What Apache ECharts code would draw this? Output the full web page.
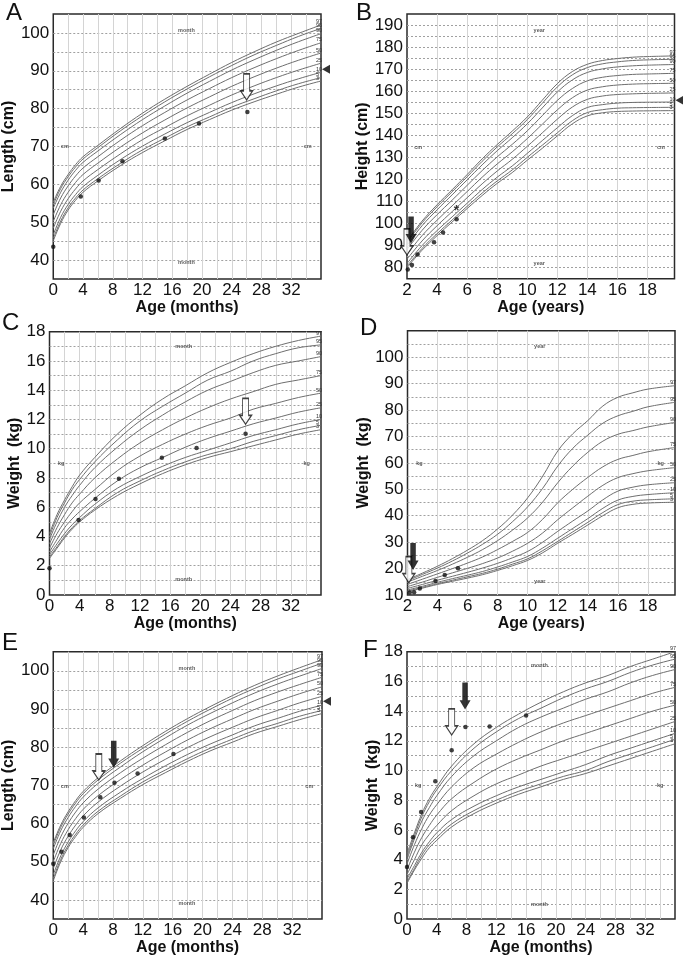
<!DOCTYPE html>
<html><head><meta charset="utf-8">
<script src="https://cdn.jsdelivr.net/npm/echarts@6/dist/echarts.min.js"></script>
<style>html,body{margin:0;padding:0;background:#fff}#c{width:683px;height:958px}</style>
</head><body><div id="c"></div>
<script>
// ---------- DATA ----------
const monthAges = [0,1,2,3,4,6,9,12,15,18,21,24,27,30,33,36];
const yearAges = [2,3,4,5,6,7,8,9,10,11,12,13,14,15,16,17,18,19.8];
const pctLabels = ['3','5','10','25','50','75','90','95','97'];

// Panel A: length (cm) percentiles 3..97 by monthAges
const pctA = [
 [45.1,49.7,53.2,55.8,57.9,60.9,64.9,68.4,71.5,74.5,77.1,79.6,81.8,83.8,85.7,87.3],
 [45.8,50.3,53.8,56.4,58.5,61.5,65.5,69.1,72.2,75.2,77.8,80.4,82.6,84.7,86.6,88.2],
 [46.7,51.3,54.7,57.3,59.4,62.4,66.5,70.1,73.3,76.3,79.0,81.6,83.9,86.0,87.9,89.6],
 [48.4,52.9,56.2,58.8,60.9,63.9,68.0,71.8,75.0,78.1,80.9,83.6,86.0,88.2,90.2,92.0],
 [50.2,54.6,57.9,60.5,62.6,65.6,69.8,73.6,77.0,80.2,83.1,85.9,88.4,90.7,92.8,94.7],
 [52.0,56.4,59.6,62.2,64.3,67.3,71.6,75.5,79.0,82.3,85.3,88.2,90.8,93.2,95.4,97.4],
 [53.7,57.9,61.1,63.7,65.8,68.8,73.1,77.1,80.7,84.1,87.2,90.2,92.9,95.4,97.7,99.8],
 [54.6,58.9,62.0,64.6,66.7,69.7,74.1,78.1,81.8,85.2,88.4,91.4,94.2,96.7,99.1,101.2],
 [55.3,59.5,62.6,65.2,67.3,70.3,74.7,78.8,82.5,85.9,89.1,92.2,95.0,97.6,99.9,102.1]
];
const dotsA = [[0,43.5],[3.7,56.8],[6.1,61.0],[9.3,66.1],[15.0,72.1],[19.6,76.1],[26.1,79.1]];

// Panel B: height (cm) percentiles by yearAges
const pctB = [
 [80.0,87.9,94.5,100.7,106.8,112.7,118.2,123.1,128.7,134.1,139.7,145.2,148.8,150.2,150.8,151.0,151.1,151.2],
 [80.7,88.7,95.4,101.6,107.8,113.8,119.3,124.3,130.0,135.5,141.1,146.6,150.3,151.6,152.3,152.5,152.6,152.7],
 [81.9,90.0,96.8,103.0,109.2,115.4,121.0,126.1,131.8,137.6,143.4,148.9,152.6,153.9,154.6,154.9,155.0,155.1],
 [83.8,92.1,99.0,105.4,111.7,118.0,123.8,129.1,135.0,141.1,147.3,152.8,156.3,157.8,158.5,158.8,159.0,159.2],
 [86.0,94.5,101.5,108.0,114.5,121.0,127.0,132.5,138.5,145.0,151.5,157.0,160.5,162.0,162.8,163.2,163.4,163.6],
 [88.2,96.9,104.0,110.6,117.3,124.0,130.2,135.9,142.0,148.9,155.8,161.2,164.7,166.3,167.1,167.6,167.8,168.1],
 [90.1,99.0,106.2,113.0,119.8,126.6,133.0,138.9,145.2,152.4,159.6,165.1,168.5,170.1,171.0,171.5,171.8,172.1],
 [91.3,100.3,107.6,114.4,121.2,128.2,134.7,140.7,147.1,154.5,161.9,167.4,170.7,172.4,173.3,173.9,174.2,174.5],
 [92.0,101.1,108.5,115.3,122.2,129.3,135.8,141.9,148.3,155.9,163.4,168.9,172.2,173.9,174.8,175.4,175.7,176.0]
];
const dotsB = [[2.05,79.2],[2.33,81.2],[2.7,86.0],[3.8,91.5],[4.4,96.0],[5.3,101.9]];
const starB = [[5.3,106.9]];

// Panel C: weight (kg) percentiles by monthAges
const pctC = [
 [2.5,3.2,3.9,4.5,5.0,5.8,6.8,7.6,8.3,8.9,9.4,9.8,10.2,10.6,11.0,11.3],
 [2.6,3.3,4.0,4.6,5.1,5.9,7.0,7.8,8.5,9.1,9.6,10.0,10.5,10.9,11.3,11.6],
 [2.75,3.5,4.2,4.8,5.3,6.2,7.3,8.1,8.8,9.4,9.9,10.4,10.9,11.3,11.7,12.0],
 [2.95,3.8,4.6,5.2,5.7,6.6,7.8,8.7,9.4,10.1,10.7,11.2,11.7,12.1,12.5,12.8],
 [3.2,4.2,5.0,5.7,6.3,7.2,8.5,9.5,10.3,11.0,11.6,12.1,12.7,13.1,13.5,13.8],
 [3.5,4.6,5.5,6.3,6.9,8.0,9.3,10.4,11.3,12.1,12.8,13.4,13.9,14.4,14.7,15.0],
 [3.8,5.0,6.0,6.8,7.5,8.7,10.1,11.3,12.3,13.2,14.0,14.6,15.2,15.7,16.0,16.3],
 [4.0,5.3,6.3,7.2,7.9,9.1,10.6,11.9,12.9,13.8,14.7,15.3,16.0,16.5,16.9,17.1],
 [4.2,5.5,6.5,7.4,8.2,9.4,11.0,12.3,13.4,14.3,15.2,15.9,16.5,17.0,17.4,17.7]
];
const dotsC = [[0,1.83],[3.85,5.13],[6.1,6.57],[9.2,7.94],[14.9,9.38],[19.5,10.05],[26.0,11.03]];

// Panel D: weight (kg) percentiles by yearAges
const pctD = [
 [11.2,12.6,14.0,15.2,16.4,17.7,19.3,21.1,23.1,26.0,29.6,33.0,36.5,40.0,43.0,44.3,44.8,45.1],
 [11.5,12.9,14.3,15.6,16.9,18.2,19.8,21.7,23.7,26.8,30.3,33.9,37.5,41.2,44.2,45.5,46.0,46.4],
 [11.9,13.3,14.8,16.2,17.5,18.9,20.6,22.5,24.6,27.8,31.5,35.2,38.9,42.8,45.9,47.3,48.0,48.7],
 [12.5,14.0,15.6,17.1,18.6,20.2,22.0,24.1,26.5,30.0,34.1,38.0,41.8,46.0,49.3,50.8,51.7,52.5],
 [13.2,14.9,16.7,18.4,20.1,21.9,24.0,26.6,29.6,33.5,38.5,43.0,47.4,51.5,54.4,55.9,57.0,58.2],
 [14.0,16.0,18.0,20.0,22.1,24.4,27.2,30.3,33.7,38.7,44.9,50.0,54.5,58.5,61.3,62.8,64.2,65.8],
 [14.9,17.1,19.3,21.7,24.3,27.2,30.6,34.6,39.2,45.2,52.5,58.8,64.0,68.2,70.8,72.2,73.6,75.3],
 [15.4,17.8,20.2,22.9,25.9,29.2,33.0,37.8,43.4,50.4,58.8,65.5,70.5,75.0,77.8,79.5,81.2,82.9],
 [15.8,18.3,20.9,23.8,27.0,30.6,35.0,40.3,46.8,55.0,64.5,71.0,76.0,81.5,84.8,86.5,87.9,89.2]
];
const dotsD = [[2.15,10.9],[2.44,11.0],[2.82,12.5],[3.86,15.3],[4.48,17.6],[5.36,20.1]];

// Panel E: length (cm) percentiles by monthAges
const pctE = [
 [45.0,50.0,53.7,56.6,59.0,62.6,66.6,70.2,73.3,76.3,79.0,81.3,83.6,85.4,87.2,88.8],
 [45.6,50.6,54.3,57.2,59.6,63.2,67.2,70.9,74.0,77.0,79.7,82.1,84.4,86.2,88.1,89.6],
 [46.6,51.5,55.2,58.1,60.5,64.1,68.2,71.8,75.1,78.1,80.8,83.2,85.6,87.5,89.4,91.0],
 [48.2,53.1,56.7,59.6,62.0,65.6,69.8,73.5,76.8,79.9,82.7,85.2,87.6,89.6,91.6,93.3],
 [50.0,54.8,58.4,61.3,63.7,67.3,71.5,75.3,78.7,81.9,84.8,87.4,89.9,92.0,94.0,95.8],
 [51.8,56.5,60.1,63.0,65.4,69.0,73.3,77.1,80.6,83.9,86.9,89.6,92.2,94.4,96.4,98.3],
 [53.4,58.1,61.6,64.5,66.9,70.5,74.8,78.8,82.4,85.8,88.8,91.6,94.2,96.5,98.6,100.6],
 [54.4,59.0,62.5,65.4,67.8,71.4,75.8,79.7,83.4,86.8,89.9,92.8,95.4,97.8,99.9,102.0],
 [55.0,59.6,63.1,66.0,68.4,72.0,76.4,80.4,84.1,87.5,90.6,93.5,96.2,98.6,100.8,102.9]
];
const dotsE = [[0,49.5],[1.1,52.6],[2.2,57.0],[4.1,61.6],[6.3,66.9],[8.2,70.65],[11.3,73.1],[16.1,78.2]];

// Panel F: weight (kg) percentiles by monthAges
const pctF = [
 [2.4,3.3,4.1,4.8,5.3,6.2,7.1,7.8,8.4,8.9,9.4,9.8,10.3,10.8,11.3,11.8],
 [2.5,3.4,4.3,5.0,5.5,6.4,7.3,8.0,8.6,9.1,9.6,10.0,10.6,11.1,11.6,12.1],
 [2.7,3.6,4.5,5.2,5.8,6.7,7.6,8.3,8.9,9.4,9.9,10.4,11.0,11.5,12.0,12.5],
 [3.0,4.0,5.0,5.7,6.3,7.3,8.3,9.1,9.7,10.3,10.8,11.3,11.8,12.3,12.8,13.3],
 [3.3,4.5,5.5,6.3,7.0,8.1,9.2,10.1,10.8,11.4,12.0,12.5,13.0,13.5,14.0,14.4],
 [3.7,5.0,6.1,7.0,7.7,8.9,10.2,11.1,11.9,12.6,13.2,13.7,14.2,14.7,15.2,15.6],
 [4.0,5.4,6.6,7.5,8.3,9.6,11.0,12.0,12.9,13.6,14.2,14.8,15.3,15.9,16.4,16.8],
 [4.2,5.6,6.9,7.9,8.7,10.0,11.5,12.6,13.5,14.2,14.9,15.5,16.0,16.6,17.1,17.5],
 [4.4,5.8,7.1,8.1,8.9,10.3,11.8,12.9,13.8,14.6,15.3,15.9,16.4,17.0,17.5,18.0]
];
const dotsF = [[0,3.5],[0.8,5.5],[1.9,7.2],[3.8,9.28],[6.0,11.37],[7.85,12.93],[11.1,12.97],[16.0,13.7]];

// Arrow tips (data coords), hollow and solid, and right-side pointers
const whiteArrows = {A:[[26.0,82.3]], B:[[2.0,85.8]], C:[[26.0,11.67]], D:[[2.09,14.65]], E:[[6.1,71.4]], F:[[6.0,12.4]]};
const blackArrows = {A:[], B:[[2.27,91.0]], C:[], D:[[2.37,19.5]], E:[[8.1,74.6]], F:[[7.8,14.1]]};
const pointers = {A:[[36,90.4]], B:[[19.8,155.9]], C:[], D:[], E:[[36,92.0]], F:[]};

// Small chart annotations [x, y, text]
const notes = {
 A:[[17.9,100.7,'month'],[17.9,39.3,'month'],[1.55,69.9,'cm'],[34.2,69.9,'cm']],
 B:[[10.8,187.7,'year'],[10.8,81.7,'year'],[2.75,134.7,'cm'],[18.9,134.7,'cm']],
 C:[[17.8,17.0,'month'],[17.8,1.03,'month'],[1.55,9.0,'kg'],[34.1,9.0,'kg']],
 D:[[10.8,104.0,'year'],[10.8,15.3,'year'],[2.8,59.8,'kg'],[18.85,59.8,'kg']],
 E:[[17.9,100.6,'month'],[17.9,39.1,'month'],[1.55,69.7,'cm'],[34.3,69.7,'cm']],
 F:[[17.8,17.05,'month'],[17.8,0.95,'month'],[1.5,9.0,'kg'],[34.0,9.0,'kg']]
};

// ---------- LAYOUT ----------
const FONT = "'Liberation Sans', Arial, Helvetica, sans-serif";
const panels = [
 {k:'A', ages:monthAges, pct:pctA, dots:dotsA, grid:{left:49.5,top:14,width:271.5,height:265},
  x:{min:0,max:36,step:2,lab:4,labMax:32}, y:{min:35,max:105,step:5,lab:10,labMax:100},
  xName:'Age (months)', yName:'Length (cm)', yGap:25, letter:[6,1]},
 {k:'B', ages:yearAges, pct:pctB, dots:dotsB, grid:{left:407,top:14,width:267.5,height:264.7},
  x:{min:2,max:19.8,step:2,lab:2,labMax:18}, y:{min:75,max:195,step:5,lab:10,labMax:190},
  xName:'Age (years)', yName:'Height (cm)', yGap:32, letter:[356,1]},
 {k:'C', ages:monthAges, pct:pctC, dots:dotsC, grid:{left:49.5,top:331.7,width:271.5,height:263.3},
  x:{min:0,max:36,step:2,lab:4,labMax:32}, y:{min:0,max:18,step:1,lab:2,labMax:18},
  xName:'Age (months)', yName:'Weight  (kg)', yGap:19, letter:[2,311]},
 {k:'D', ages:yearAges, pct:pctD, dots:dotsD, grid:{left:407.5,top:330.7,width:267.5,height:264.3},
  x:{min:2,max:19.8,step:2,lab:2,labMax:18}, y:{min:10,max:110,step:5,lab:10,labMax:100},
  xName:'Age (years)', yName:'Weight  (kg)', yGap:26, letter:[360,316]},
 {k:'E', ages:monthAges, pct:pctE, dots:dotsE, grid:{left:49.5,top:651.7,width:272.5,height:267.3},
  x:{min:0,max:36,step:2,lab:4,labMax:32}, y:{min:35,max:105,step:5,lab:10,labMax:100},
  xName:'Age (months)', yName:'Length (cm)', yGap:24, letter:[2,631]},
 {k:'F', ages:monthAges, pct:pctF, dots:dotsF, grid:{left:407,top:651.7,width:268,height:267.3},
  x:{min:0,max:36,step:2,lab:4,labMax:32}, y:{min:0,max:18,step:1,lab:2,labMax:18},
  xName:'Age (months)', yName:'Weight  (kg)', yGap:20, letter:[363,638]}
];

const arrowPath = 'path://M3,0 L9,0 L9,17 L12,17 L6,26 L0,17 L3,17 Z';
const isMult = (v, m) => Math.abs(v / m - Math.round(v / m)) < 1e-6;

const grids = [], xAxes = [], yAxes = [], series = [], graphics = [];
panels.forEach((p, i) => {
  grids.push(Object.assign({show:true, borderColor:'#2a2a2a', borderWidth:1.5, backgroundColor:'rgba(0,0,0,0)', containLabel:false}, p.grid));
  xAxes.push({type:'value', gridIndex:i, min:p.x.min, max:p.x.max, interval:p.x.step,
    axisLine:{show:false}, axisTick:{show:false},
    splitLine:{show:true, showMinLine:false, showMaxLine:false, lineStyle:{color:'#d4d4d4', width:1}},
    axisLabel:{showMaxLabel:false, margin:3, fontSize:17, color:'#111', fontFamily:FONT,
      formatter:v => (isMult(v - (p.x.min % p.x.lab), p.x.lab) && v <= p.x.labMax) ? String(v) : ''},
    name:p.xName, nameLocation:'middle', nameGap:21,
    nameTextStyle:{fontSize:16, fontWeight:'bold', color:'#111', fontFamily:FONT}});
  yAxes.push({type:'value', gridIndex:i, min:p.y.min, max:p.y.max, interval:p.y.step,
    axisLine:{show:false}, axisTick:{show:false},
    splitLine:{show:true, showMinLine:false, showMaxLine:false, lineStyle:{color:'#a0a0a0', width:1, type:[2,2]}},
    axisLabel:{margin:4, fontSize:17, color:'#111', fontFamily:FONT,
      formatter:v => (isMult(v, p.y.lab) && v <= p.y.labMax) ? String(v) : ''},
    name:p.yName, nameLocation:'middle', nameGap:p.yGap,
    nameTextStyle:{fontSize:16, fontWeight:'bold', color:'#111', fontFamily:FONT}});

  p.pct.forEach((row, j) => {
    series.push({type:'line', xAxisIndex:i, yAxisIndex:i, silent:true,
      data:p.ages.map((a, n) => [a, row[n]]),
      showSymbol:false, smooth:0.4, z:2,
      lineStyle:{color:'#6e6e6e', width:1},
      endLabel:{show:true, formatter:pctLabels[j], fontSize:5.5, color:'#333', fontFamily:FONT, offset:[-13,-3]}});
  });
  series.push({type:'scatter', xAxisIndex:i, yAxisIndex:i, data:p.dots, symbolSize:4.5, z:5,
    itemStyle:{color:'#111'}});
  series.push({type:'scatter', xAxisIndex:i, yAxisIndex:i, data:notes[p.k], symbolSize:0, z:3, silent:true,
    label:{show:true, position:'inside', formatter:q => q.data[2], fontSize:5.5, fontWeight:'bold', color:'#333', fontFamily:FONT}});
  series.push({type:'scatter', xAxisIndex:i, yAxisIndex:i, data:whiteArrows[p.k], clip:false, z:8,
    symbol:arrowPath, symbolSize:[12,26], symbolOffset:[0,'-50%'],
    itemStyle:{color:'#fff', borderColor:'#111', borderWidth:1.2}});
  series.push({type:'scatter', xAxisIndex:i, yAxisIndex:i, data:blackArrows[p.k], clip:false, z:9,
    symbol:arrowPath, symbolSize:[11,27], symbolOffset:[0,'-50%'],
    itemStyle:{color:'#000'}});
  series.push({type:'scatter', xAxisIndex:i, yAxisIndex:i, data:pointers[p.k], clip:false, z:9,
    symbol:'triangle', symbolRotate:90, symbolSize:[9,8], symbolOffset:[5,0],
    itemStyle:{color:'#000'}});
  graphics.push({type:'text', left:p.letter[0], top:p.letter[1],
    style:{text:p.k, font:'24px ' + FONT, fill:'#111'}});
});
series.push({type:'scatter', xAxisIndex:1, yAxisIndex:1, data:starB, symbolSize:0, z:6,
  label:{show:true, position:'inside', formatter:'*', fontSize:14, fontWeight:'bold', color:'#111', offset:[0,3], fontFamily:FONT}});

const chart = echarts.init(document.getElementById('c'), null, {renderer:'canvas', width:683, height:958});
chart.setOption({animation:false, backgroundColor:'#fff', grid:grids, xAxis:xAxes, yAxis:yAxes, series:series, graphic:graphics});
</script></body></html>
